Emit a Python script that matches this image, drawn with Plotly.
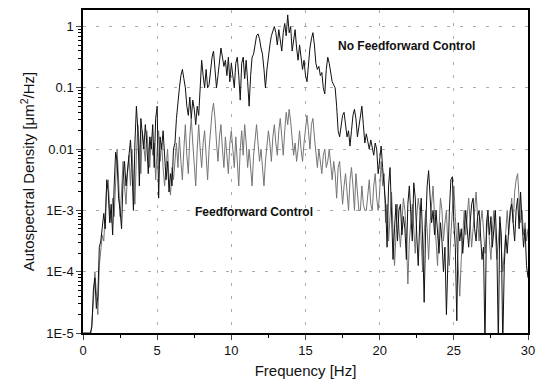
import numpy as np
import plotly.graph_objects as go

# Frequency grid (Hz), 0.1 Hz spacing
freq = [round(i * 0.1, 1) for i in range(301)]

# log10 of autospectral density, No Feedforward Control
no_ff_log = [
    -5.0, -5.0, -5.0, -5.0, -5.0, -5.0, -4.9, -4.3, -4.1, -4.6, -4.4,
    -3.6, -3.5, -3.3, -3.05, -3.3, -2.5, -2.7, -3.2, -2.9, -3.4,
    -2.6, -2.05, -2.2, -2.8, -3.0, -3.3, -2.5, -2.2, -2.6, -2.3,
    -2.0, -1.85, -2.3, -3.0, -1.9, -1.3, -1.7, -2.6, -1.5, -1.8,
    -2.0, -1.6, -1.9, -2.4, -1.8, -2.0, -1.6, -2.3, -1.5, -1.3,
    -2.8, -1.8, -2.0, -1.7, -2.1, -2.5, -2.2, -2.7, -2.4, -2.6,
    -2.0, -1.9, -1.5, -1.2, -1.0, -0.8, -0.7, -0.85, -1.0, -1.3,
    -1.45, -1.15, -1.5, -1.2, -1.35, -1.6, -1.3, -1.45, -0.9, -0.55,
    -0.8, -1.0, -0.7, -1.0, -0.95, -0.7, -0.5, -0.4, -0.7, -1.0,
    -0.8, -0.55, -0.35, -0.5, -0.65, -0.55, -0.8, -0.5, -0.9, -0.6,
    -0.85, -1.0, -0.6, -0.5, -0.8, -1.2, -0.6, -0.5, -0.85, -0.55,
    -0.9, -1.3, -0.8, -0.5, -0.45, -0.3, -0.15, -0.12, -0.2, -0.35,
    -0.45, -0.7, -1.0, -0.7, -0.45, -0.3, -0.15, -0.05, 0.0, -0.1,
    -0.3, -0.05, -0.2, -0.4, -0.1, 0.05, -0.15, 0.19, -0.1, 0.0,
    -0.4, -0.2, -0.05, -0.35, -0.55, -0.3, -0.5, -0.7, -0.55, -0.8,
    -0.9, -0.6, -0.35, -0.2, -0.1, -0.3, -0.6, -0.7, -0.65, -0.8,
    -0.75, -1.0, -1.1, -0.7, -0.5, -0.6, -0.8, -0.9, -0.95, -1.0,
    -1.3, -1.7, -1.8, -1.6, -1.45, -1.4, -1.6, -1.8, -1.7, -1.95,
    -1.7, -1.45, -1.35, -1.5, -1.8, -1.6, -1.4, -1.3, -1.6, -1.9,
    -1.75, -1.9, -2.0, -1.85, -1.95, -2.1, -1.9, -2.0, -2.4, -2.1,
    -1.95, -2.3, -2.6, -2.9, -3.6, -2.6, -2.3, -3.0, -3.8, -3.3,
    -2.9, -3.5, -3.0, -2.9, -3.4, -3.1, -3.3, -3.8, -2.9, -2.6,
    -3.0, -3.5, -2.55, -2.8, -3.4, -3.9, -3.2, -2.8, -3.5, -4.5,
    -3.3, -2.6, -2.35, -2.7, -3.2, -3.0, -3.4, -3.0, -3.3, -3.7,
    -3.2, -3.5, -4.0, -3.6, -4.7, -3.8, -3.0, -2.5, -2.45, -3.2,
    -3.6, -4.8, -3.2, -3.5, -3.3, -3.7, -3.4, -3.0, -3.3, -3.6,
    -3.2, -2.9, -2.8, -3.3, -3.5, -3.1, -3.0, -3.4, -3.8, -3.6,
    -5.2, -3.2, -3.0, -3.4, -3.1, -3.6, -3.3, -3.0, -3.6, -5.2,
    -3.1, -3.4, -5.2, -3.9, -3.4, -3.7, -3.3, -3.0, -2.9, -3.2,
    -3.5, -3.0, -2.8, -3.3, -2.7, -3.2, -3.6, -3.3, -3.9, -4.1,
]

# log10 of autospectral density, Feedforward Control
ff_log = [
    -5.2, -5.2, -5.2, -5.2, -5.2, -5.1, -4.8, -4.5, -4.0, -4.3, -4.7,
    -3.9, -3.6, -3.4, -3.5, -3.0, -2.6, -2.5, -3.0, -3.2, -2.8,
    -3.1, -2.4, -2.0, -2.5, -3.1, -2.7, -2.2, -2.6, -2.9, -2.4,
    -2.1, -2.6, -2.0, -2.5, -2.9, -2.1, -1.6, -2.0, -2.4, -1.7,
    -1.9, -2.2, -1.7, -2.0, -2.3, -1.8, -2.1, -1.9, -2.5, -2.0,
    -1.7, -2.2, -1.9, -2.3, -2.6, -2.3, -2.0, -2.5, -2.75, -2.3,
    -2.5, -2.2, -1.9, -2.3, -1.8, -2.2, -2.5, -2.0, -1.6, -2.1,
    -2.4, -1.8, -1.5, -1.9, -2.3, -2.6, -2.0, -1.6, -2.0, -2.3,
    -1.9, -1.7, -2.1, -2.5, -2.0, -1.6, -1.4, -1.25, -1.5, -1.9,
    -2.2, -1.8, -1.6, -2.0, -2.3, -1.8, -2.1, -2.4, -1.9, -1.7,
    -2.0, -2.3, -1.8, -2.2, -2.6, -2.0, -1.7, -2.1, -1.6, -1.9,
    -2.3, -2.0, -2.4, -2.6, -2.1, -1.8, -1.6, -1.9, -2.2, -2.0,
    -2.3, -2.6, -2.2, -1.9, -1.7, -1.9, -2.2, -1.8, -1.6, -1.9,
    -2.1, -1.7, -1.5, -1.8, -2.1, -1.7, -1.4, -1.6, -1.35, -1.55,
    -1.8, -2.1, -1.9, -2.2, -2.0, -1.7, -2.0, -2.2, -1.9, -1.6,
    -1.45, -1.7, -2.0, -1.6, -1.5, -1.8, -2.1, -2.3, -2.0, -2.2,
    -2.4, -2.1, -2.0, -2.3, -2.2, -2.0, -2.3, -2.5, -2.2, -2.4,
    -2.8, -2.3, -2.2, -2.5, -2.9, -2.6, -2.4, -2.7, -3.0, -2.5,
    -2.3, -2.6, -3.0, -2.4, -2.7, -3.0, -3.0, -2.6, -2.9, -3.0,
    -3.0, -2.7, -2.5, -2.9, -3.0, -2.6, -2.4, -2.8, -3.0, -2.7,
    -2.2, -2.6, -2.4, -3.2, -2.9, -3.5, -3.1, -2.7, -3.3, -3.9,
    -3.4, -2.9, -3.3, -3.6, -3.2, -2.8, -3.0, -3.4, -4.2, -3.5,
    -3.2, -2.9, -3.3, -3.7, -3.1, -2.8, -3.0, -3.6, -4.0, -3.4,
    -3.0, -3.3, -3.8, -3.2, -2.9, -2.6, -3.1, -3.5, -3.9, -3.3,
    -2.8, -3.0, -3.5, -3.2, -3.0, -3.6, -3.9, -3.4, -3.0, -2.6,
    -3.1, -3.5, -4.0, -4.4, -3.8, -3.3, -3.0, -3.4, -3.1, -2.8,
    -3.2, -3.6, -3.3, -3.0, -2.7, -3.1, -3.5, -3.2, -3.0, -3.3,
    -3.7, -3.4, -3.1, -3.5, -3.8, -3.3, -3.0, -3.4, -3.8, -3.5,
    -3.2, -3.6, -4.0, -3.7, -3.3, -3.0, -3.4, -3.1, -2.8, -3.2,
    -2.7, -2.5, -2.4, -2.8, -3.2, -3.0, -3.4, -3.2, -3.5, -3.3,
]

x_ticks = [0, 5, 10, 15, 20, 25, 30]
y_tickvals = [1e-5, 1e-4, 1e-3, 1e-2, 1e-1, 1]
y_ticktext = ["1E-5", "1E-4", "1E-3", "0.01", "0.1", "1"]

no_ff = [10 ** v for v in no_ff_log]
ff = [10 ** v for v in ff_log]

fig = go.Figure()
fig.add_trace(go.Scatter(x=freq, y=ff, mode="lines", name="Feedforward Control",
                         line=dict(color="#747474", width=1)))
fig.add_trace(go.Scatter(x=freq, y=no_ff, mode="lines", name="No Feedforward Control",
                         line=dict(color="#111111", width=1)))

font_family = "Liberation Sans, Arial, sans-serif"
minor_y = [m * 10.0 ** e for e in range(-5, 1) for m in range(2, 10)]

fig.update_layout(
    width=543, height=385,
    margin=dict(l=83, r=10, t=8, b=52),
    paper_bgcolor="white", plot_bgcolor="white",
    showlegend=False,
    font=dict(family=font_family, size=13, color="#111"),
    xaxis=dict(
        range=[0, 30], tickvals=x_ticks, ticks="outside", ticklen=5,
        showline=True, linecolor="black", linewidth=1.5, mirror=True,
        showgrid=True, gridcolor="#aaa", griddash="3px,10px", gridwidth=1,
        zeroline=False,
        minor=dict(tickvals=[2.5, 7.5, 12.5, 17.5, 22.5, 27.5], ticks="outside",
                   ticklen=3, tickcolor="black", showgrid=False),
        title=dict(text="Frequency [Hz]", font=dict(size=15), standoff=8),
        tickfont=dict(size=13),
    ),
    yaxis=dict(
        type="log", range=[-5, 0.27], tickvals=y_tickvals, ticktext=y_ticktext,
        ticks="outside", ticklen=5,
        showline=True, linecolor="black", linewidth=1.5, mirror=True,
        showgrid=True, gridcolor="#aaa", griddash="3px,10px", gridwidth=1,
        zeroline=False,
        minor=dict(tickvals=minor_y, ticks="outside", ticklen=3,
                   tickcolor="black", showgrid=False),
        title=dict(text="Autospectral Density [μm<sup>2</sup>/Hz]", font=dict(size=15), standoff=8),
        tickfont=dict(size=13),
    ),
    annotations=[
        dict(x=21.8, y=np.log10(0.48), xref="x", yref="y", text="<b>No Feedforward Control</b>",
             showarrow=False, font=dict(size=12, color="#111")),
        dict(x=11.5, y=-3.03, xref="x", yref="y", text="<b>Feedforward Control</b>",
             showarrow=False, font=dict(size=12, color="#111")),
    ],
)

fig.write_html("out.html")
